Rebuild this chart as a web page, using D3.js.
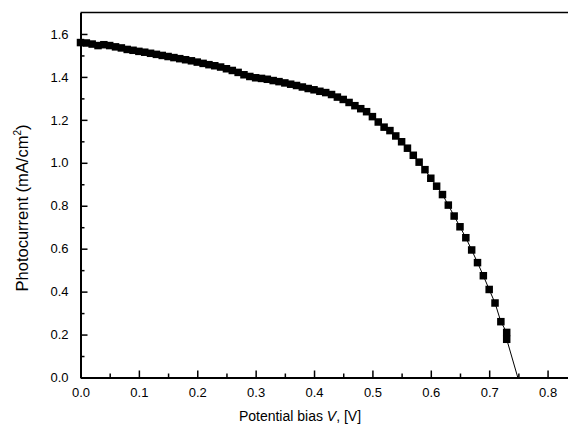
<!DOCTYPE html>
<html>
<head>
<meta charset="utf-8">
<script src="https://cdn.jsdelivr.net/npm/d3@7"></script>
<style>
  body { margin: 0; background: #fff; }
  text { font-family: "Liberation Sans", Arial, Helvetica, sans-serif; fill: #000; }
</style>
</head>
<body>
<div id="chart"></div>
<script>
// bias voltage (V) and photocurrent (mA/cm2)
const voltage = [0.00, 0.01, 0.02, 0.03, 0.04, 0.05, 0.06, 0.07, 0.08, 0.09,
  0.10, 0.11, 0.12, 0.13, 0.14, 0.15, 0.16, 0.17, 0.18, 0.19,
  0.20, 0.21, 0.22, 0.23, 0.24, 0.25, 0.26, 0.27, 0.28, 0.29,
  0.30, 0.31, 0.32, 0.33, 0.34, 0.35, 0.36, 0.37, 0.38, 0.39,
  0.40, 0.41, 0.42, 0.43, 0.44, 0.45, 0.46, 0.47, 0.48, 0.49,
  0.50, 0.51, 0.52, 0.53, 0.54, 0.55, 0.56, 0.57, 0.58, 0.59,
  0.60, 0.61, 0.62, 0.63, 0.64, 0.65, 0.66, 0.67, 0.68, 0.69,
  0.70, 0.71, 0.72, 0.73, 0.73];
const current = [1.560, 1.558, 1.553, 1.546, 1.550, 1.546, 1.540, 1.535, 1.528, 1.524,
  1.519, 1.515, 1.510, 1.505, 1.500, 1.495, 1.490, 1.485, 1.480, 1.475,
  1.469, 1.463, 1.457, 1.452, 1.446, 1.438, 1.430, 1.421, 1.410, 1.402,
  1.396, 1.393, 1.389, 1.383, 1.378, 1.372, 1.366, 1.360, 1.353, 1.346,
  1.340, 1.333, 1.327, 1.318, 1.306, 1.295, 1.281, 1.266, 1.252, 1.238,
  1.215, 1.190, 1.166, 1.150, 1.125, 1.098, 1.068, 1.035, 1.003, 0.968,
  0.928, 0.891, 0.852, 0.803, 0.752, 0.702, 0.651, 0.594, 0.535, 0.474,
  0.410, 0.347, 0.260, 0.210, 0.178];
// the fitted line runs on to the open-circuit point
const vocV = 0.749, vocI = 0;

const xMajor = [0, 0.1, 0.2, 0.3, 0.4, 0.5, 0.6, 0.7, 0.8],
      xMinor = [0.05, 0.15, 0.25, 0.35, 0.45, 0.55, 0.65, 0.75],
      yMajor = [0, 0.2, 0.4, 0.6, 0.8, 1.0, 1.2, 1.4, 1.6],
      yMinor = [0.1, 0.3, 0.5, 0.7, 0.9, 1.1, 1.3, 1.5];

const W = 568, H = 425;
const plot = {left: 80.5, right: 568, top: 12.5, bottom: 377.5};

const x = d3.scaleLinear().domain([0, 0.835]).range([plot.left, plot.right]);
const y = d3.scaleLinear().domain([0, 1.7]).range([plot.bottom, plot.top]);

const svg = d3.select("#chart")
  .append("svg")
  .attr("width", W)
  .attr("height", H);

// top frame line
svg.append("line")
  .attr("x1", plot.left).attr("x2", W)
  .attr("y1", plot.top).attr("y2", plot.top)
  .attr("stroke", "#000").attr("stroke-width", 1.5);

// x axis
svg.append("g")
  .attr("transform", "translate(0," + plot.bottom + ")")
  .call(d3.axisBottom(x).tickValues(xMajor).tickFormat(d3.format(".1f"))
    .tickSizeInner(-7).tickSizeOuter(0).tickPadding(10));
svg.append("g")
  .attr("transform", "translate(0," + plot.bottom + ")")
  .call(d3.axisBottom(x).tickValues(xMinor).tickFormat("")
    .tickSizeInner(-4).tickSizeOuter(0))
  .select(".domain").remove();

// y axis
svg.append("g")
  .attr("transform", "translate(" + plot.left + ",0)")
  .call(d3.axisLeft(y).tickValues(yMajor).tickFormat(d3.format(".1f"))
    .tickSizeInner(-7).tickSizeOuter(0).tickPadding(12));
svg.append("g")
  .attr("transform", "translate(" + plot.left + ",0)")
  .call(d3.axisLeft(y).tickValues(yMinor).tickFormat("")
    .tickSizeInner(-4).tickSizeOuter(0))
  .select(".domain").remove();

svg.selectAll(".domain").attr("stroke-width", 2);
svg.selectAll(".tick line").attr("stroke-width", 1.5);
svg.selectAll(".tick text")
  .attr("font-size", 13)
  .style("font-family", "'Liberation Sans', Arial, sans-serif");

// data
const pts = voltage.map((v, i) => ({v: v, i: current[i]}));
const linePts = pts.concat([{v: vocV, i: vocI}]);

svg.append("path")
  .datum(linePts)
  .attr("fill", "none")
  .attr("stroke", "#000")
  .attr("stroke-width", 1)
  .attr("d", d3.line().x(d => x(d.v)).y(d => y(d.i)));

const s = 7.5;
svg.selectAll(".pt")
  .data(pts)
  .enter()
  .append("rect")
  .attr("class", "pt")
  .attr("x", d => x(d.v) - s / 2)
  .attr("y", d => y(d.i) - s / 2)
  .attr("width", s)
  .attr("height", s)
  .attr("fill", "#000");

// axis titles
svg.append("text")
  .attr("x", 300)
  .attr("y", 421)
  .attr("text-anchor", "middle")
  .attr("font-size", 14)
  .call(t => {
    t.append("tspan").text("Potential bias ");
    t.append("tspan").attr("font-style", "italic").text("V");
    t.append("tspan").text(", [V]");
  });

svg.append("text")
  .attr("transform", "translate(28,208) rotate(-90)")
  .attr("text-anchor", "middle")
  .attr("font-size", 16.5)
  .call(t => {
    t.append("tspan").text("Photocurrent (mA/cm");
    t.append("tspan").attr("font-size", 10).attr("dy", -7).text("2");
    t.append("tspan").attr("dy", 7).text(")");
  });
</script>
</body>
</html>
